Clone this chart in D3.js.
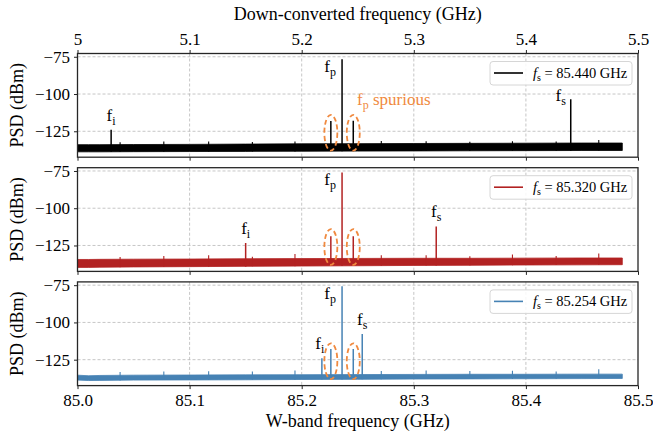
<!DOCTYPE html>
<html>
<head>
<meta charset="utf-8">
<script src="https://cdn.jsdelivr.net/npm/d3@7"></script>
<style>
  body { margin: 0; background: #fff; }
  svg { display: block; }
  text { font-family: "Liberation Serif", "Times New Roman", serif; fill: #000; }
</style>
</head>
<body>
<svg id="chart" width="653" height="436"></svg>
<script>
// Spectra after down-conversion with an 80 GHz local oscillator
const LO_GHZ = 80;
const signalLabels = ["85.440", "85.320", "85.254"];
const traceColors = ["#000000", "#b22222", "#4682b4"];
const xTicksDown = [5.0, 5.1, 5.2, 5.3, 5.4, 5.5];
const yTicks = [-75, -100, -125];

// Noise-floor envelope (down-converted GHz, dBm)
const floorFreq = [5.000, 5.010, 5.020, 5.050, 5.100, 5.150, 5.200, 5.250, 5.300, 5.350, 5.400, 5.450, 5.486];
const floorTop = [
  [-134.0, -134.0, -134.0, -133.9, -133.8, -133.6, -133.4, -133.3, -133.2, -133.1, -133.0, -132.9, -132.9],
  [-134.4, -134.4, -134.3, -134.2, -134.1, -133.9, -133.8, -133.7, -133.6, -133.6, -133.5, -133.4, -133.4],
  [-135.4, -135.8, -135.6, -135.4, -135.3, -135.2, -135.1, -135.0, -134.9, -134.8, -134.8, -134.7, -134.7]
];
const floorBottom = [
  [-138.8, -138.8, -138.8, -138.7, -138.6, -138.5, -138.4, -138.3, -138.2, -138.1, -138.0, -137.9, -137.9],
  [-139.7, -139.7, -139.6, -139.4, -139.2, -139.0, -138.8, -138.6, -138.4, -138.3, -138.1, -138.0, -137.9],
  [-138.7, -139.0, -138.9, -138.7, -138.6, -138.5, -138.3, -138.2, -138.0, -137.9, -137.8, -137.7, -137.6]
];

// Mixing products: idler, pump, signal (down-converted GHz, dBm)
const idlerFreq = [5.030, 5.150, 5.218];
const idlerPSD = [-124.0, -123.3, -124.0];
const pumpFreq = [5.236, 5.236, 5.236];
const pumpPSD = [-76.7, -76.0, -75.7];
const signalFreq = [5.440, 5.320, 5.254];
const signalPSD = [-103.5, -112.2, -107.8];

// Pump spurious tones
const spurFreq = [5.226, 5.246];
const spurPSD = [
  [-118.1, -118.0],
  [-118.8, -118.8],
  [-117.8, -117.8]
];

// Small recurring spurs riding on the floor
const minorFreq = [5.038, 5.077, 5.117, 5.156, 5.194, 5.271, 5.311, 5.350, 5.388, 5.427, 5.465];
const minorPSD = [
  [-132.3, -131.8, -131.9, -132.2, -131.8, -131.6, -131.7, -132.0, -131.7, -131.9, -130.8],
  [-132.8, -132.0, -131.6, -132.6, -130.8, -131.6, -131.6, -132.2, -131.0, -132.0, -130.4],
  [-133.2, -132.9, -132.8, -133.0, -132.3, -132.6, -132.3, -132.6, -132.4, -133.0, -131.4]
];

// ---------------------------------------------------------------------------
const W = 653, H = 436;
const plotLeft = 77.5, plotRight = 638;
const panelTops = [53.5, 167.7, 281.9];
const panelH = 103.7;
const ORANGE = "#f08a40";

const svg = d3.select("#chart");
const x = d3.scaleLinear().domain([5.0, 5.5]).range([plotLeft, plotRight]);

const fmtMinus = v => (v < 0 ? "\u2212" + Math.abs(v) : String(v));

// axis labels
svg.append("text")
  .attr("x", (plotLeft + plotRight) / 2).attr("y", 20)
  .attr("text-anchor", "middle").attr("font-size", 18)
  .text("Down-converted frequency (GHz)");
svg.append("text")
  .attr("x", (plotLeft + plotRight) / 2).attr("y", 427)
  .attr("text-anchor", "middle").attr("font-size", 18)
  .text("W-band frequency (GHz)");

panelTops.forEach((top, i) => {
  const y = d3.scaleLinear().domain([-142.4, -72.8]).range([top + panelH, top]);
  const g = svg.append("g");
  const color = traceColors[i];

  const clipId = "clip" + i;
  svg.append("clipPath").attr("id", clipId)
    .append("rect").attr("x", plotLeft).attr("y", top)
    .attr("width", plotRight - plotLeft).attr("height", panelH);

  // grid
  const grid = g.append("g").attr("stroke", "#b8b8b8").attr("stroke-width", 0.8)
    .attr("stroke-dasharray", "3,2");
  xTicksDown.slice(1, -1).forEach(t => {
    grid.append("line").attr("x1", x(t)).attr("x2", x(t))
      .attr("y1", top).attr("y2", top + panelH);
  });
  yTicks.forEach(t => {
    grid.append("line").attr("x1", plotLeft).attr("x2", plotRight)
      .attr("y1", y(t)).attr("y2", y(t));
  });

  // trace
  const data = g.append("g").attr("clip-path", `url(#${clipId})`);
  const band = floorFreq.map((f, k) => ({ f, hi: floorTop[i][k], lo: floorBottom[i][k] }));
  const area = d3.area().x(d => x(d.f)).y0(d => y(d.lo)).y1(d => y(d.hi));
  data.append("path").datum(band).attr("d", area)
    .attr("fill", color).attr("stroke", color).attr("stroke-width", 0.8)
    .attr("stroke-linejoin", "round");

  const floorAt = f => {
    const k = Math.max(0, d3.bisectLeft(floorFreq, f) - 1);
    return floorBottom[i][k];
  };
  const spike = (f, v, w) => data.append("line")
    .attr("x1", x(f)).attr("x2", x(f))
    .attr("y1", y(floorAt(f))).attr("y2", y(v))
    .attr("stroke", color).attr("stroke-width", w);

  minorFreq.forEach((f, k) => spike(f, minorPSD[i][k], 1.1));
  spurFreq.forEach((f, k) => spike(f, spurPSD[i][k], 1.5));
  spike(idlerFreq[i], idlerPSD[i], 1.5);
  spike(signalFreq[i], signalPSD[i], 1.5);
  spike(pumpFreq[i], pumpPSD[i], 1.5);

  // dashed rings around spurious tones
  spurFreq.forEach(f => {
    g.append("ellipse")
      .attr("cx", x(f)).attr("cy", y(-126))
      .attr("rx", (x(f + 0.0058) - x(f))).attr("ry", (y(-138) - y(-114)) / 2)
      .attr("fill", "none").attr("stroke", ORANGE).attr("stroke-width", 1.8)
      .attr("stroke-dasharray", "5,3");
  });

  // peak annotations
  const label = (px, py, sub, anchor) => {
    const t = g.append("text").attr("x", px).attr("y", py)
      .attr("text-anchor", anchor || "middle").attr("font-size", 17);
    t.append("tspan").text("f");
    t.append("tspan").attr("dy", 4).attr("font-size", 12).text(sub);
    return t;
  };
  label(x(idlerFreq[i]) - (i === 2 ? 2 : 0), y(idlerPSD[i]) - 9, "i");
  label(x(pumpFreq[i]) - 12, y(pumpPSD[i]) + 12.5, "p");
  if (i === 0) {
    label(x(signalFreq[i]) - 10, y(signalPSD[i]) + 2, "s");
    const sp = g.append("text").attr("x", 357).attr("y", y(-107.3))
      .attr("font-size", 17).style("fill", ORANGE);
    sp.append("tspan").text("f");
    sp.append("tspan").attr("dy", 4).attr("font-size", 12).text("p");
    sp.append("tspan").attr("dy", -4).text(" spurious");
  } else {
    label(x(signalFreq[i]), y(signalPSD[i]) - 9, "s");
  }

  // legend
  const lg = g.append("g").attr("transform", `translate(490,${top + 8})`);
  lg.append("rect").attr("width", 142).attr("height", 23.5).attr("rx", 3)
    .attr("fill", "#fff").attr("fill-opacity", 0.85)
    .attr("stroke", "#d6d6d6").attr("stroke-width", 1);
  lg.append("line").attr("x1", 4).attr("x2", 33).attr("y1", 11.5).attr("y2", 11.5)
    .attr("stroke", color).attr("stroke-width", 1.6);
  const lt = lg.append("text").attr("x", 43).attr("y", 16.5).attr("font-size", 14.5);
  lt.append("tspan").attr("font-style", "italic").text("f");
  lt.append("tspan").attr("dy", 3).attr("font-size", 10).text("s");
  lt.append("tspan").attr("dy", -3).text(" = " + signalLabels[i] + " GHz");

  // y axis
  const yAxis = d3.axisLeft(y).tickValues(yTicks).tickSize(3.5).tickPadding(4)
    .tickFormat(fmtMinus);
  const ya = g.append("g").attr("transform", `translate(${plotLeft},0)`).call(yAxis);
  ya.select(".domain").remove();
  ya.selectAll("text").attr("font-size", 17).attr("font-family", "Liberation Serif, serif");
  ya.selectAll("line").attr("stroke", "#222");

  // x ticks
  const xb = d3.axisBottom(x).tickValues(xTicksDown).tickSize(3.5).tickPadding(5)
    .tickFormat(d => (d + LO_GHZ).toFixed(1));
  const xa = g.append("g").attr("transform", `translate(0,${top + panelH})`).call(xb);
  xa.select(".domain").remove();
  xa.selectAll("line").attr("stroke", "#222");
  if (i === 2) {
    xa.selectAll("text").attr("font-size", 17).attr("font-family", "Liberation Serif, serif");
  } else {
    xa.selectAll("text").remove();
  }
  if (i === 0) {
    const xt = d3.axisTop(x).tickValues(xTicksDown).tickSize(3.5).tickPadding(5)
      .tickFormat(d => (d === 5 ? "5" : d3.format(".1f")(d)));
    const xta = g.append("g").attr("transform", `translate(0,${top})`).call(xt);
    xta.select(".domain").remove();
    xta.selectAll("line").attr("stroke", "#222");
    xta.selectAll("text").attr("font-size", 17).attr("font-family", "Liberation Serif, serif");
  }

  // frame
  g.append("rect").attr("x", plotLeft).attr("y", top)
    .attr("width", plotRight - plotLeft).attr("height", panelH)
    .attr("fill", "none").attr("stroke", "#262626").attr("stroke-width", 1.3);

  // y label
  svg.append("text")
    .attr("transform", `translate(23,${top + panelH / 2}) rotate(-90)`)
    .attr("text-anchor", "middle").attr("font-size", 18)
    .text("PSD (dBm)");
});
</script>
</body>
</html>
